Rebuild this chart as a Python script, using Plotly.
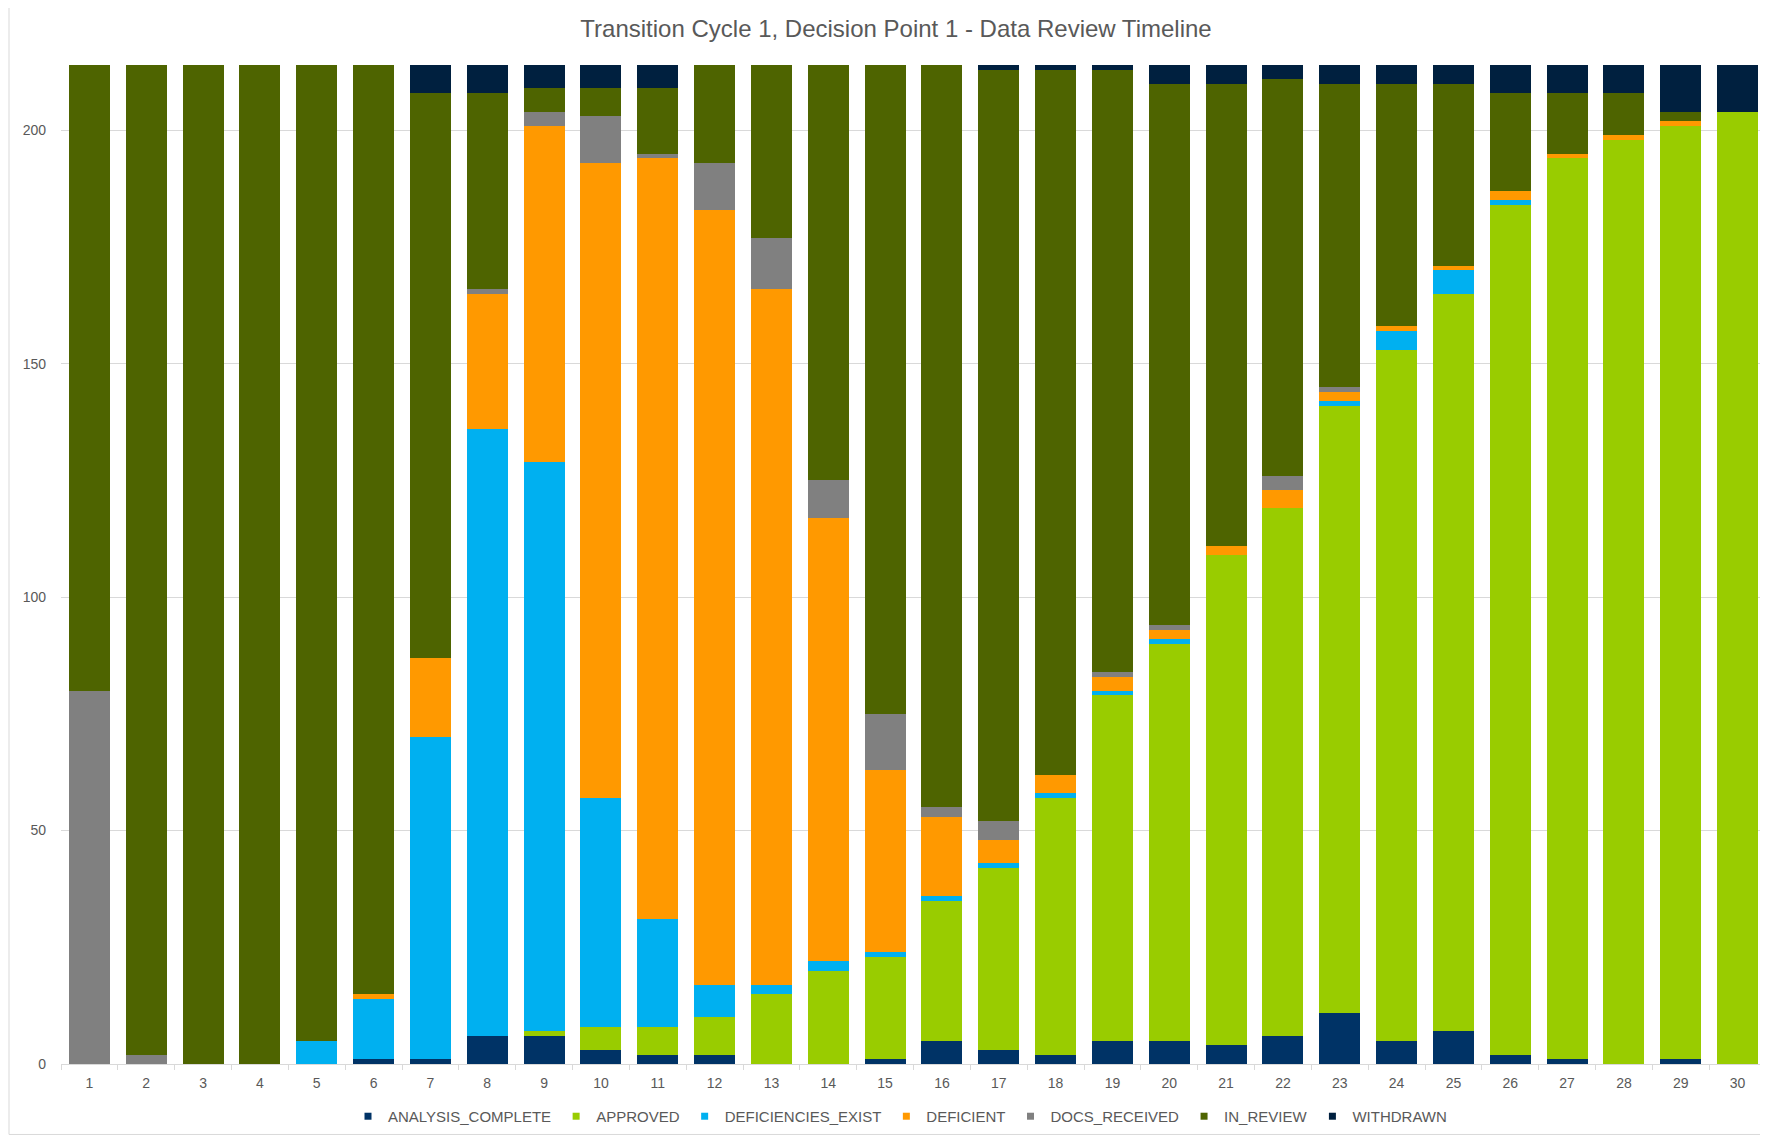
import plotly.graph_objects as go

categories = [str(i) for i in range(1, 31)]

analysis_complete = [0, 0, 0, 0, 0, 1, 1, 6, 6, 3, 2, 2, 0, 0, 1, 5, 3, 2, 5, 5,
                     4, 6, 11, 5, 7, 2, 1, 0, 1, 0]
approved = [0, 0, 0, 0, 0, 0, 0, 0, 1, 5, 6, 8, 15, 20, 22, 30, 39, 55, 74, 85,
            105, 113, 130, 148, 158, 182, 193, 198, 200, 204]
deficiencies_exist = [0, 0, 0, 0, 5, 13, 69, 130, 122, 49, 23, 7, 2, 2, 1, 1, 1, 1, 1, 1,
                      0, 0, 1, 4, 5, 1, 0, 0, 0, 0]
deficient = [0, 0, 0, 0, 0, 1, 17, 29, 72, 136, 163, 166, 149, 95, 39, 17, 5, 4, 3, 2,
             2, 4, 2, 1, 1, 2, 1, 1, 1, 0]
docs_received = [80, 2, 0, 0, 0, 0, 0, 1, 3, 10, 1, 10, 11, 8, 12, 2, 4, 0, 1, 1,
                 0, 3, 1, 0, 0, 0, 0, 0, 0, 0]
in_review = [134, 212, 214, 214, 209, 199, 121, 42, 5, 6, 14, 21, 37, 89, 139, 159, 161, 151, 129, 116,
             99, 85, 65, 52, 39, 21, 13, 9, 2, 0]
withdrawn = [0, 0, 0, 0, 0, 0, 6, 6, 5, 5, 5, 0, 0, 0, 0, 0, 1, 1, 1, 4,
             4, 3, 4, 4, 4, 6, 6, 6, 10, 10]

series_names = ["ANALYSIS_COMPLETE", "APPROVED", "DEFICIENCIES_EXIST", "DEFICIENT",
                "DOCS_RECEIVED", "IN_REVIEW", "WITHDRAWN"]
series_values = [analysis_complete, approved, deficiencies_exist, deficient,
                 docs_received, in_review, withdrawn]
series_colors = ["#003366", "#99CC00", "#00B0F0", "#FF9900", "#808080", "#4E6400", "#00203F"]

title_text = "Transition Cycle 1, Decision Point 1 - Data Review Timeline"

FONT = "Liberation Sans, Arial, sans-serif"
GRAY_TXT = "#595959"
GRID = "#d9d9d9"

fig = go.Figure()
for name, vals, col in zip(series_names, series_values, series_colors):
    fig.add_trace(go.Bar(
        x=categories, y=vals, name=name, marker=dict(color=col, line=dict(width=0)),
        legendgroup=name, showlegend=False,
    ))
for name, col in zip(series_names, series_colors):
    fig.add_trace(go.Scatter(
        x=[None], y=[None], mode="markers", name=name, legendgroup=name,
        marker=dict(symbol="square", size=7, color=col), showlegend=True,
    ))

# page body has an 8px margin: work in figure coordinates = page - 8
OFF = 8
W, H = 1760, 1130
L, R, T = 61 - OFF, 2, 65 - OFF
B = H - (1064.5 - OFF)
pw = W - L - R
ph = H - T - B


def py(page_y):
    return ((H - B) - (page_y - OFF)) / ph


def px(page_x):
    return ((page_x - OFF) - L) / pw


fig.update_layout(
    width=W, height=H,
    barmode="stack", bargap=0.28,
    plot_bgcolor="white", paper_bgcolor="white",
    margin=dict(l=L, r=R, t=T, b=B, pad=0),
    font=dict(family=FONT, color=GRAY_TXT, size=14),
    title=dict(text=title_text, x=(896 - OFF) / W, xanchor="center", xref="container",
               y=1 - (29 - OFF) / H, yanchor="middle", yref="container",
               font=dict(family=FONT, size=24, color=GRAY_TXT)),
    legend=dict(orientation="h", x=px(900), xanchor="center",
                y=py(1117), yanchor="middle",
                font=dict(family=FONT, size=15, color=GRAY_TXT),
                itemwidth=30, tracegroupgap=0, bgcolor="rgba(0,0,0,0)"),
    xaxis=dict(type="category", showgrid=False, showline=True, linecolor=GRID, linewidth=1,
               ticks="outside", tickson="boundaries", ticklen=5, tickcolor=GRID,
               ticklabelstandoff=6,
               tickfont=dict(size=14, color=GRAY_TXT), zeroline=False,
               range=[-0.5, 29.5]),
    yaxis=dict(range=[0, 214], tickvals=[0, 50, 100, 150, 200], showgrid=True,
               gridcolor=GRID, gridwidth=1, showline=False, zeroline=False,
               ticks="", ticklabelstandoff=14, tickfont=dict(size=14, color=GRAY_TXT)),
    shapes=[
        dict(type="line", xref="paper", yref="paper",
             x0=px(9), x1=px(9), y0=py(0), y1=py(1135),
             line=dict(color=GRID, width=1)),
        dict(type="line", xref="paper", yref="paper",
             x0=px(9), x1=px(1768), y0=py(1135), y1=py(1135),
             line=dict(color=GRID, width=1)),
    ],
)

fig.write_html("out.html")
